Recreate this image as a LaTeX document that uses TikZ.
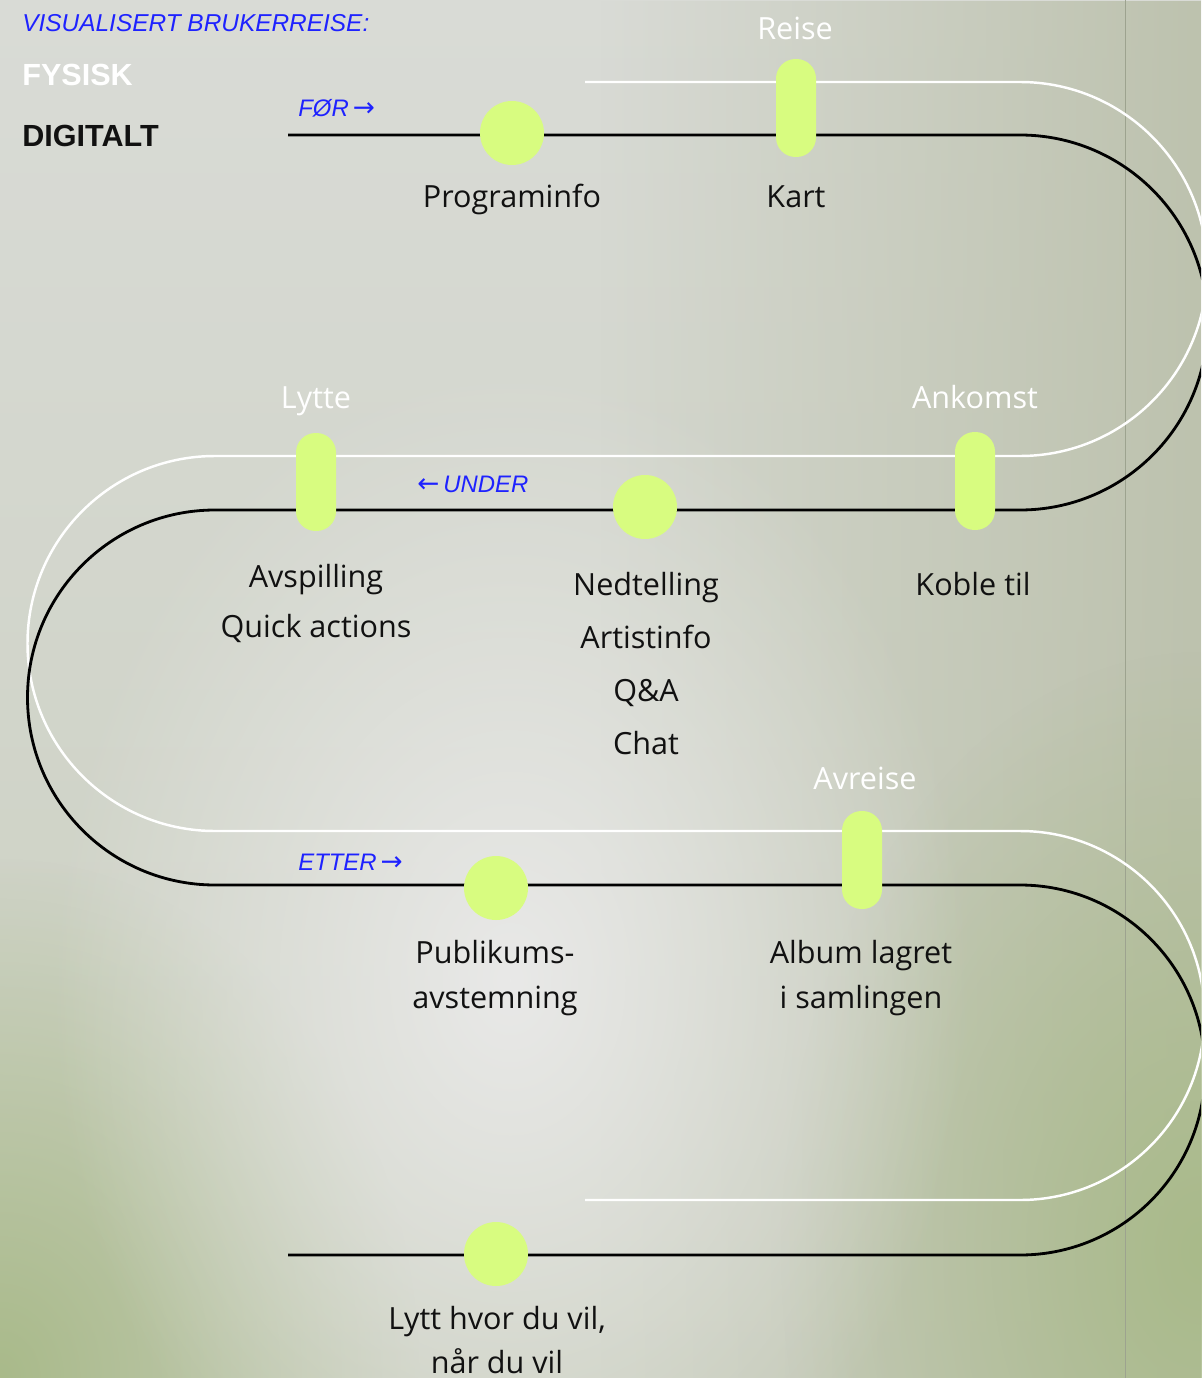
\documentclass[tikz,border=0pt]{standalone}
\usepackage{fontspec}
\setmainfont{Open Sans}
\newfontfamily\headfont{Liberation Sans}
\newfontfamily\arrowfont{DejaVu Sans}
\usepackage{tikz}
\usetikzlibrary{positioning, fadings}
\usepackage{xcolor}
\definecolor{stopgreen}{HTML}{D8FC80}
\definecolor{tagblue}{HTML}{1E22FF}
\definecolor{inkblack}{HTML}{111111}
\definecolor{bgtop}{HTML}{D9DBD6}
\definecolor{bgbottom}{HTML}{CACFBF}
\definecolor{bgside}{HTML}{BDC2AE}
\definecolor{bgmoss}{HTML}{A9BA8A}
\definecolor{bgglow}{HTML}{E9E9E8}
\definecolor{gridline}{HTML}{9DA38F}

\tikzfading[name=glow, inner color=transparent!0, outer color=transparent!100]
\tikzfading[name=sidefade, left color=transparent!100, right color=transparent!0]

\tikzset{
  dot/.style={circle, fill=stopgreen, minimum size=1.28cm, inner sep=0pt},
  pill/.style={rectangle, fill=stopgreen, rounded corners=0.39cm,
    minimum width=0.8cm, minimum height=1.96cm, inner sep=0pt},
  stoptext/.style={font=\fontsize{17.4}{#1}\selectfont, text=inkblack,
    align=center, anchor=base, inner sep=0pt},
  stoptext/.default=25.5pt,
  phasetext/.style={font=\fontsize{17.4}{20}\selectfont, text=white,
    anchor=base, inner sep=0pt},
  tagtext/.style={font=\headfont\itshape\fontsize{13.6}{16}\selectfont,
    text=tagblue, anchor=base west, inner sep=0pt},
  headtext/.style={font=\headfont\bfseries\fontsize{17.4}{20}\selectfont,
    anchor=base west, inner sep=0pt},
  digital/.style={draw=black, line width=1.6pt},
  physical/.style={draw=white, line width=1.4pt}
}
\newcommand{\toright}{\,{\arrowfont\fontsize{15}{16}\selectfont →}}
\newcommand{\toleft}{{\arrowfont\fontsize{15}{16}\selectfont ←}\,}

\begin{document}
\begin{tikzpicture}[x=0.02cm, y=-0.02cm]
  % Backdrop: light grey, green in the lower corners and along the right edge
  \useasboundingbox (0,0) rectangle (1201,1378);
  \shade[top color=bgtop, bottom color=bgbottom] (0,0) rectangle (1201,1378);
  \fill[bgside, path fading=sidefade] (600,0) rectangle (1201,1378);
  \fill[bgmoss, path fading=glow] (0,1378) ellipse (420 and 520);
  \fill[bgmoss, path fading=glow] (1201,1250) ellipse (420 and 600);
  \fill[bgglow, path fading=glow] (510,980) ellipse (460 and 620);
  \clip (0,0) rectangle (1201,1378);
  \draw[gridline, line width=0.5pt] (1125,0) -- (1125,1378);

  % Legend
  \node[tagtext, font=\headfont\itshape\fontsize{13.9}{16}\selectfont] (title) at (22,32) {VISUALISERT BRUKERREISE:};
  \node[headtext, text=white] (fysisk) at (22,86) {FYSISK};
  \node[headtext, text=inkblack] (digitalt) at (22,147) {DIGITALT};

  % The two winding tracks
  \coordinate (fysisk start) at (585,82);
  \coordinate (fysisk end) at (585,1200);
  \coordinate (digital start) at (288,135);
  \coordinate (digital end) at (288,1255);
  \draw[physical] (fysisk start) -- (1020,82) arc[start angle=-90, end angle=90, radius=187]
    -- (215,456) arc[start angle=270, end angle=90, radius=187.5]
    -- (1020,831) arc[start angle=-90, end angle=90, radius=184.5] -- (fysisk end);
  \draw[digital] (digital start) -- (1020,135) arc[start angle=-90, end angle=90, radius=187.5]
    -- (215,510) arc[start angle=270, end angle=90, radius=187.5]
    -- (1020,885) arc[start angle=-90, end angle=90, radius=185] -- (digital end);

  % Phase tags
  \node[tagtext] (foer) at (298,117) {FØR\toright};
  \node[tagtext] (under) at (417,492) {\toleft UNDER};
  \node[tagtext] (etter) at (298,870) {ETTER\toright};

  % Digital stops
  \foreach \n/\x/\y in {programinfo/512/133, nedtelling/645/507,
    avstemning/496/888, lytt/496/1254}
    \node[dot] (\n) at (\x,\y) {};

  % Stops on both tracks
  \foreach \n/\x/\y in {kart/796/108, koble/975/481,
    avspilling/316/482, album/862/860}
    \node[pill] (\n) at (\x,\y) {};

  % Physical steps (white)
  \foreach \t/\x/\y in {Reise/795/40, Lytte/316/408,
    Ankomst/975/408, Avreise/865/789}
    \node[phasetext] (phase \t) at (\x,\y) {\t};

  % Digital step texts (base = last line)
  \node[stoptext] (programinfo text) at (512,208) {Programinfo};
  \node[stoptext] (kart text) at (796,208) {Kart};
  \node[stoptext=28.3pt] (avspilling text) at (316,637) {Avspilling\\Quick actions};
  \node[stoptext=30pt] (nedtelling text) at (646,754) {Nedtelling\\Artistinfo\\Q\&A\\Chat};
  \node[stoptext] (koble text) at (973,595) {Koble til};
  \node[stoptext] (avstemning text) at (495,1008) {Publikums-\\avstemning};
  \node[stoptext] (album text) at (861,1008) {Album lagret\\i samlingen};
  \node[stoptext=25pt] (lytt text) at (497,1373) {Lytt hvor du vil,\\når du vil};
\end{tikzpicture}
\end{document}
